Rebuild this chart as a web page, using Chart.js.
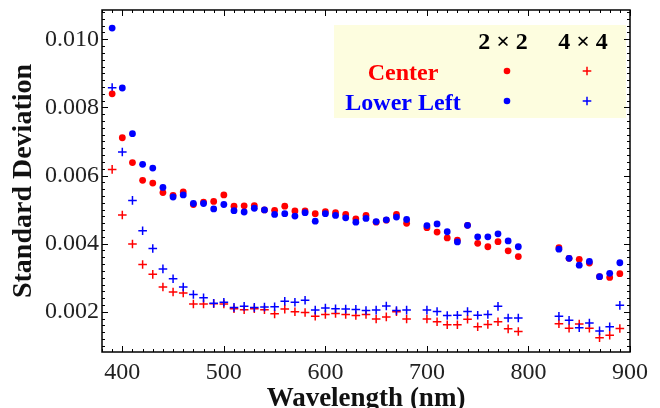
<!DOCTYPE html>
<html>
<head>
<meta charset="utf-8">
<script src="https://cdn.jsdelivr.net/npm/chart.js@4.4.1/dist/chart.umd.min.js"></script>
<style>
  html, body { margin: 0; padding: 0; background: #fff; }
  canvas { display: block; }
</style>
</head>
<body>
<canvas id="sdChart" width="660" height="408"></canvas>
<script>
// wavelength grid (nm) - gaps at 690 and 800-820
const wavelengths = [
  390, 400, 410, 420, 430, 440, 450, 460, 470, 480, 490, 500, 510, 520, 530,
  540, 550, 560, 570, 580, 590, 600, 610, 620, 630, 640, 650, 660, 670, 680,
  700, 710, 720, 730, 740, 750, 760, 770, 780, 790,
  830, 840, 850, 860, 870, 880, 890
];

const center2x2 = [
  0.00840, 0.00711, 0.00638, 0.00586, 0.00578, 0.00550, 0.00542, 0.00552, 0.00515, 0.00522,
  0.00524, 0.00543, 0.00510, 0.00511, 0.00512, 0.00499, 0.00498, 0.00510, 0.00496, 0.00496,
  0.00488, 0.00494, 0.00491, 0.00486, 0.00473, 0.00483, 0.00463, 0.00469, 0.00486, 0.00460,
  0.00447, 0.00434, 0.00417, 0.00410, 0.00454, 0.00401, 0.00391, 0.00406, 0.00379, 0.00362,
  0.00388, 0.00357, 0.00354, 0.00343, 0.00303, 0.00301, 0.00312
];

const lowerLeft2x2 = [
  0.01033, 0.00857, 0.00723, 0.00633, 0.00622, 0.00565, 0.00537, 0.00543, 0.00518, 0.00518,
  0.00502, 0.00515, 0.00497, 0.00493, 0.00504, 0.00499, 0.00486, 0.00488, 0.00481, 0.00491,
  0.00466, 0.00488, 0.00483, 0.00476, 0.00463, 0.00474, 0.00465, 0.00470, 0.00478, 0.00471,
  0.00453, 0.00458, 0.00435, 0.00405, 0.00454, 0.00420, 0.00420, 0.00429, 0.00408, 0.00391,
  0.00384, 0.00357, 0.00337, 0.00348, 0.00303, 0.00313, 0.00344
];

const center4x4 = [
  0.00618, 0.00484, 0.00399, 0.00339, 0.00310, 0.00273, 0.00258, 0.00255, 0.00223, 0.00223,
  0.00224, 0.00223, 0.00209, 0.00206, 0.00209, 0.00206, 0.00194, 0.00208, 0.00200, 0.00198,
  0.00187, 0.00192, 0.00195, 0.00192, 0.00189, 0.00192, 0.00179, 0.00185, 0.00200, 0.00179,
  0.00179, 0.00171, 0.00162, 0.00162, 0.00178, 0.00156, 0.00163, 0.00171, 0.00150, 0.00142,
  0.00165, 0.00152, 0.00164, 0.00152, 0.00124, 0.00131, 0.00151
];

const lowerLeft4x4 = [
  0.00858, 0.00669, 0.00527, 0.00438, 0.00386, 0.00326, 0.00297, 0.00273, 0.00251, 0.00241,
  0.00225, 0.00228, 0.00213, 0.00216, 0.00213, 0.00214, 0.00215, 0.00231, 0.00228, 0.00234,
  0.00205, 0.00211, 0.00209, 0.00208, 0.00207, 0.00204, 0.00205, 0.00217, 0.00204, 0.00205,
  0.00205, 0.00201, 0.00189, 0.00190, 0.00201, 0.00190, 0.00192, 0.00216, 0.00182, 0.00182,
  0.00187, 0.00175, 0.00153, 0.00167, 0.00144, 0.00156, 0.00219
];

const xTicks = [400, 500, 600, 700, 800, 900];
const yTicks = [0.002, 0.004, 0.006, 0.008, 0.010];
const rowLabels = ['Center', 'Lower Left'];
const colLabels = ['2 \u00d7 2', '4 \u00d7 4'];

const RED = '#ff0000';
const BLUE = '#0000ff';
const SERIF = '"Liberation Serif", "DejaVu Serif", serif';

function pts(vals) {
  return wavelengths.map((w, i) => ({ x: w, y: vals[i] }));
}

// inward ticks on all four sides + frame
const frameTicks = {
  id: 'frameTicks',
  afterDraw(chart) {
    const { ctx, chartArea: a, scales: { x, y } } = chart;
    ctx.save();
    ctx.strokeStyle = '#000';
    ctx.lineWidth = 1;
    ctx.beginPath();
    for (let v = 380; v <= 900; v += 10) {
      const px = Math.round(x.getPixelForValue(v)) + 0.5;
      const len = v % 100 === 0 ? 6 : 3;
      ctx.moveTo(px, a.bottom); ctx.lineTo(px, a.bottom - len);
      ctx.moveTo(px, a.top); ctx.lineTo(px, a.top + len);
    }
    for (let k = 5; k <= 54; k++) {
      const py = Math.round(y.getPixelForValue(k * 0.0002)) + 0.5;
      const len = k % 10 === 0 ? 6 : 3;
      ctx.moveTo(a.left, py); ctx.lineTo(a.left + len, py);
      ctx.moveTo(a.right, py); ctx.lineTo(a.right - len, py);
    }
    ctx.stroke();
    ctx.lineWidth = 1.5;
    ctx.strokeRect(a.left, a.top, a.right - a.left, a.bottom - a.top);
    ctx.restore();
  }
};

// table-style legend box in the upper right
const tableLegend = {
  id: 'tableLegend',
  beforeDatasetsDraw(chart) {
    const { ctx, chartArea: a } = chart;
    const left = 334, top = a.top + 15, right = a.right - 4, bottom = 118;
    ctx.save();
    ctx.fillStyle = '#fdfddf';
    ctx.fillRect(left, top, right - left, bottom - top);

    const colX = [507, 587];
    const rowY = [71, 101];
    ctx.textAlign = 'center';
    ctx.textBaseline = 'alphabetic';
    ctx.font = 'bold 24px ' + SERIF;
    ctx.fillStyle = '#000';
    colLabels.forEach((t, i) => ctx.fillText(t, colX[i] - 4, 49));

    const colors = [RED, BLUE];
    rowLabels.forEach((t, r) => {
      ctx.fillStyle = colors[r];
      ctx.fillText(t, 403, rowY[r] + 9);
      // dot marker
      ctx.beginPath();
      ctx.arc(colX[0], rowY[r], 3.3, 0, Math.PI * 2);
      ctx.fill();
      // plus marker
      ctx.strokeStyle = colors[r];
      ctx.lineWidth = 1.5;
      ctx.beginPath();
      ctx.moveTo(colX[1] - 4.3, rowY[r]); ctx.lineTo(colX[1] + 4.3, rowY[r]);
      ctx.moveTo(colX[1], rowY[r] - 4.3); ctx.lineTo(colX[1], rowY[r] + 4.3);
      ctx.stroke();
    });
    ctx.restore();
  }
};

const dotStyle = { pointStyle: 'circle', pointRadius: 3.4, borderWidth: 0, showLine: false };
const crossStyle = { pointStyle: 'cross', pointRadius: 4.3, borderWidth: 1.5, showLine: false };

new Chart(document.getElementById('sdChart'), {
  type: 'scatter',
  data: {
    datasets: [
      { label: 'Lower Left 2x2', data: pts(lowerLeft2x2), backgroundColor: BLUE, borderColor: BLUE, order: 1, ...dotStyle },
      { label: 'Center 2x2', data: pts(center2x2), backgroundColor: RED, borderColor: RED, order: 2, ...dotStyle },
      { label: 'Lower Left 4x4', data: pts(lowerLeft4x4), backgroundColor: BLUE, borderColor: BLUE, order: 3, ...crossStyle },
      { label: 'Center 4x4', data: pts(center4x4), backgroundColor: RED, borderColor: RED, order: 4, ...crossStyle }
    ]
  },
  options: {
    responsive: false,
    animation: false,
    events: [],
    layout: { padding: { left: 0, top: 10, right: 30, bottom: 0 } },
    plugins: { legend: { display: false }, tooltip: { enabled: false } },
    scales: {
      x: {
        type: 'linear',
        min: 380,
        max: 900,
        grid: { display: false, drawTicks: false },
        border: { display: false },
        afterBuildTicks: s => { s.ticks = xTicks.map(v => ({ value: v })); },
        afterFit: s => { s.height = 56; s.paddingLeft = 0; s.paddingRight = 0; },
        ticks: { color: '#222', padding: 6, font: { family: SERIF, size: 24 }, maxRotation: 0 },
        title: {
          display: true,
          text: 'Wavelength (nm)',
          color: '#111',
          padding: 0,
          font: { family: SERIF, size: 27, weight: 'bold', lineHeight: '17px' }
        }
      },
      y: {
        type: 'linear',
        min: 0.00082,
        max: 0.01086,
        grid: { display: false, drawTicks: false },
        border: { display: false },
        afterBuildTicks: s => { s.ticks = yTicks.map(v => ({ value: v })); },
        afterFit: s => { s.width = 102; s.paddingTop = 0; s.paddingBottom = 0; },
        ticks: {
          color: '#222',
          padding: 3,
          font: { family: SERIF, size: 24 },
          callback: v => v.toFixed(3)
        },
        title: {
          display: true,
          text: 'Standard Deviation',
          color: '#111',
          padding: 0,
          font: { family: SERIF, size: 28, weight: 'bold', lineHeight: '48px' }
        }
      }
    }
  },
  plugins: [tableLegend, frameTicks]
});
</script>
</body>
</html>
